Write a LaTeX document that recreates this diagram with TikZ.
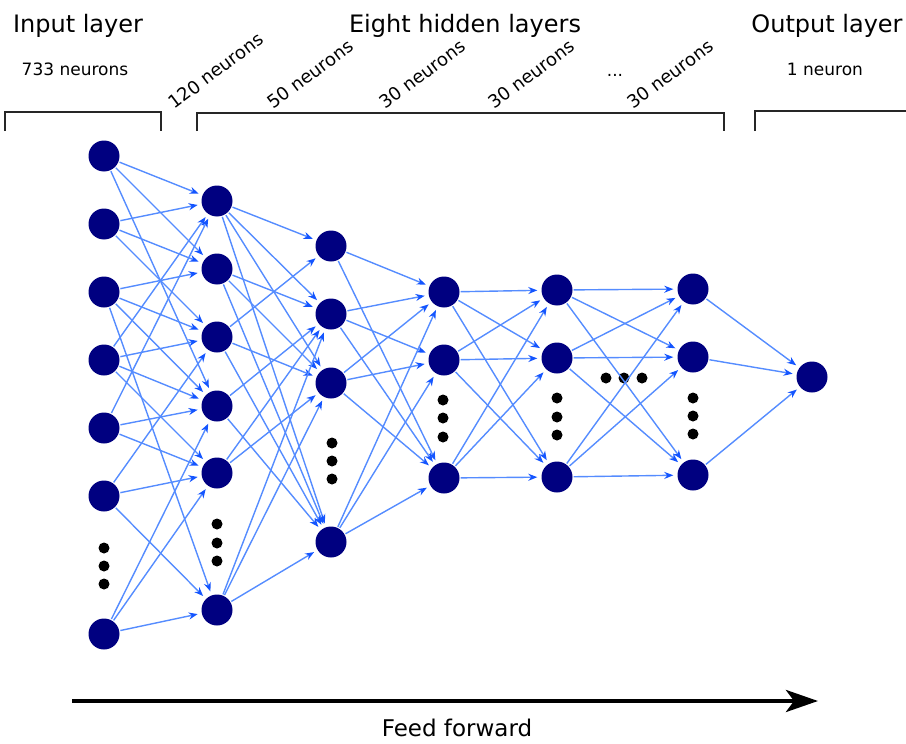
\documentclass[tikz,border=0pt]{standalone}
\usepackage{fontspec}
\setmainfont{DejaVu Sans}
\usetikzlibrary{arrows.meta}
\definecolor{neuroncol}{RGB}{0,0,128}
\definecolor{linkcol}{RGB}{85,140,255}
\definecolor{tipcol}{RGB}{20,85,255}
\begin{document}
\begin{tikzpicture}[x=1pt,y=-1pt,
  neuron/.style={circle,fill=neuroncol,minimum size=31pt,inner sep=0pt},
  dotnode/.style={circle,fill=black,minimum size=11pt,inner sep=0pt},
  link/.style={draw=linkcol,line width=1.4pt,-{Stealth[length=9pt,width=7pt,color=tipcol]},shorten >=4pt,shorten <=1pt},
  bracketline/.style={draw=black!85,line width=2pt},
  header/.style={anchor=base,font=\fontsize{24}{28}\selectfont},
  sublabel/.style={anchor=base,font=\fontsize{17}{20}\selectfont},
  rotlabel/.style={anchor=base west,rotate=37,font=\fontsize{18}{21}\selectfont}]
\useasboundingbox (0,0) rectangle (906,744);

% headers
\node[header] (hin) at (78,32) {Input layer};
\node[header] (hhid) at (465,32) {Eight hidden layers};
\node[header] (hout) at (827,32) {Output layer};
\node[sublabel] (sin) at (75,75) {733 neurons};
\node[sublabel] (sout) at (825,75) {1 neuron};
\node[rotlabel] (r1) at (172,112) {120 neurons};
\node[rotlabel] (r2) at (271,112) {50 neurons};
\node[rotlabel] (r3) at (383,112) {30 neurons};
\node[rotlabel] (r4) at (492,112) {30 neurons};
\node[sublabel] (rdots) at (615,76) {...};
\node[rotlabel] (r5) at (631,112) {30 neurons};

% brackets
\draw[bracketline] (5,131) -- (5,112) -- (161,112) -- (161,131);
\draw[bracketline] (197,131) -- (197,113) -- (724,113) -- (724,131);
\draw[bracketline] (755,131) -- (755,111) -- (906,111);

% input layer
\foreach \n/\y in {1/156,2/224,3/292,4/360,5/428,6/496,7/634}
  \node[neuron] (a\n) at (104,\y) {};
\foreach \n/\y in {1/548,2/566,3/584}
  \node[dotnode] (ad\n) at (104,\y) {};
% hidden 1
\foreach \n/\y in {1/201,2/269,3/337,4/406,5/473,6/610}
  \node[neuron] (b\n) at (217,\y) {};
\foreach \n/\y in {1/524,2/543,3/561}
  \node[dotnode] (bd\n) at (217,\y) {};
% hidden 2
\foreach \n/\y in {1/246,2/314,3/383,4/542}
  \node[neuron] (c\n) at (331,\y) {};
\foreach \n/\y in {1/443,2/461,3/479}
  \node[dotnode] (cd\n) at (332,\y) {};
% hidden 3
\foreach \n/\y in {1/292,2/360,3/478}
  \node[neuron] (d\n) at (444,\y) {};
\foreach \n/\y in {1/400,2/418,3/437}
  \node[dotnode] (dd\n) at (443,\y) {};
% hidden 4
\foreach \n/\y in {1/290,2/358,3/477}
  \node[neuron] (e\n) at (557,\y) {};
\foreach \n/\y in {1/398,2/417,3/435}
  \node[dotnode] (ed\n) at (557,\y) {};
% horizontal dots
\foreach \n/\x in {1/606,2/624,3/642}
  \node[dotnode] (hd\n) at (\x,378) {};
% last hidden
\foreach \n/\y in {1/289,2/357,3/475}
  \node[neuron] (f\n) at (693,\y) {};
\foreach \n/\y in {1/398,2/416,3/434}
  \node[dotnode] (fd\n) at (693,\y) {};
% output
\node[neuron] (o) at (812,377) {};

% connections
\foreach \s/\t in {a1/b1,a1/b2,a1/b4,a2/b1,a2/b2,a2/b3,a3/b2,a3/b3,a3/b4,a3/b6,
  a4/b1,a4/b3,a4/b4,a4/b5,a5/b1,a5/b4,a5/b5,a6/b3,a6/b5,a6/b6,a7/b4,a7/b5,a7/b6,
  b1/c1,b1/c2,b1/c3,b1/c4,b2/c2,b2/c3,b2/c4,b3/c1,b3/c3,b3/c4,b4/c2,b4/c4,
  b5/c2,b5/c3,b6/c2,b6/c3,b6/c4,
  c1/d1,c1/d3,c2/d1,c2/d2,c2/d3,c3/d1,c3/d2,c3/d3,c4/d1,c4/d2,c4/d3,
  d1/e1,d1/e2,d1/e3,d2/e1,d2/e2,d2/e3,d3/e1,d3/e2,d3/e3,
  e1/f1,e1/f2,e1/f3,e2/f1,e2/f2,e2/f3,e3/f1,e3/f2,e3/f3,
  f1/o,f2/o,f3/o}
  \draw[link] (\s) -- (\t);

% feed forward
\coordinate (ffs) at (72,701);
\coordinate (ffe) at (818,701);
\draw[line width=4pt,-{Stealth[length=32pt,width=22pt,inset=8pt]}] (ffs) -- (ffe);
\node[header,font=\fontsize{23}{27}\selectfont] (ff) at (457,736) {Feed forward};
\end{tikzpicture}
\end{document}
